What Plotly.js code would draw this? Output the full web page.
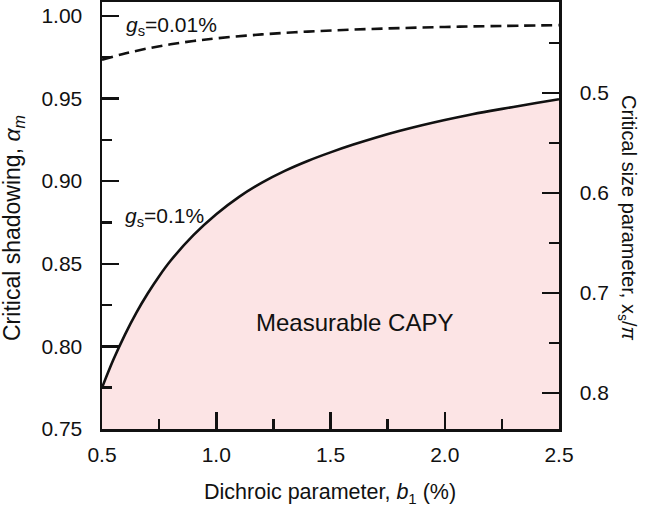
<!DOCTYPE html>
<html>
<head>
<meta charset="utf-8">
<script src="https://cdn.plot.ly/plotly-3.0.1.min.js"></script>
<style>html,body{margin:0;padding:0;background:#fff;}#chart{width:648px;height:515px;}</style>
</head>
<body>
<div id="chart"></div>
<script>
// Dichroic parameter b1 (%) and critical shadowing alpha_m
const b1_gs01 = [0.5, 0.55, 0.6, 0.65, 0.7, 0.75, 0.8, 0.9, 1.0, 1.1, 1.2, 1.3, 1.4, 1.5, 1.6, 1.7, 1.8, 1.9, 2.0, 2.1, 2.2, 2.3, 2.4, 2.5];
const alpha_gs01 = [0.775, 0.792, 0.807, 0.8203, 0.8320, 0.8425, 0.8518, 0.8673, 0.8800, 0.8905, 0.8991, 0.9062, 0.9122, 0.9174, 0.9221, 0.9264, 0.9303, 0.9338, 0.9370, 0.9399, 0.9425, 0.9449, 0.9473, 0.9496];

const b1_gs001 = [0.5, 0.6, 0.7, 0.8, 0.9, 1.0, 1.2, 1.4, 1.6, 1.8, 2.0, 2.2, 2.5];
const alpha_gs001 = [0.9735, 0.9772, 0.9803, 0.9828, 0.9848, 0.9864, 0.9888, 0.9905, 0.9917, 0.9926, 0.9933, 0.9938, 0.9944];

const xTicks = [0.5, 1.0, 1.5, 2.0, 2.5];
const yTicks = [0.75, 0.80, 0.85, 0.90, 0.95, 1.00];
const y2Ticks = [0.5, 0.6, 0.7, 0.8];

const FONT = 'Liberation Sans, Arial, Helvetica, sans-serif';
const ink = '#111';

const traces = [
  {
    x: b1_gs01, y: alpha_gs01, type: 'scatter', mode: 'lines',
    line: {color: ink, width: 2.6, shape: 'spline', smoothing: 1},
    fill: 'tozeroy', fillcolor: 'rgb(252,228,229)', hoverinfo: 'skip', showlegend: false
  },
  {
    x: b1_gs001, y: alpha_gs001, type: 'scatter', mode: 'lines',
    line: {color: ink, width: 2.6, shape: 'spline', smoothing: 1, dash: '11px,6px'},
    hoverinfo: 'skip', showlegend: false
  },
  {
    x: [0.5, 2.5], y: [0.5, 0.8], yaxis: 'y2', type: 'scatter', mode: 'none',
    hoverinfo: 'skip', showlegend: false
  }
];

const tickFont = {family: FONT, size: 21, color: ink};

const layout = {
  width: 648, height: 515,
  margin: {l: 102, r: 89, t: 2, b: 86, pad: 0},
  paper_bgcolor: '#fff', plot_bgcolor: '#fff',
  font: {family: FONT, color: ink, size: 21},
  showlegend: false,
  xaxis: {
    range: [0.5, 2.5], tickvals: xTicks, ticktext: xTicks.map(v => v.toFixed(1)),
    ticks: 'inside', ticklen: 17, tickwidth: 2.5, tickcolor: ink,
    minor: {dtick: 0.25, tick0: 0.5, ticks: 'inside', ticklen: 10, tickwidth: 2.5, tickcolor: ink, showgrid: false},
    showline: true, linewidth: 2.5, linecolor: ink, mirror: true,
    showgrid: false, zeroline: false, tickfont: tickFont, ticklabelstandoff: 5
  },
  yaxis: {
    range: [0.75, 1.0084], tickvals: yTicks, ticktext: yTicks.map(v => v.toFixed(2)),
    ticks: 'inside', ticklen: 17, tickwidth: 2.5, tickcolor: ink,
    minor: {dtick: 0.025, tick0: 0.75, ticks: 'inside', ticklen: 10, tickwidth: 2.5, tickcolor: ink, showgrid: false},
    showline: true, linewidth: 2.5, linecolor: ink, mirror: false,
    showgrid: false, zeroline: false, tickfont: tickFont, ticklabelstandoff: 13
  },
  yaxis2: {
    overlaying: 'y', side: 'right', range: [0.836, 0.409],
    tickvals: y2Ticks, ticktext: y2Ticks.map(v => v.toFixed(1)),
    ticks: 'inside', ticklen: 17, tickwidth: 2.5, tickcolor: ink,
    minor: {dtick: 0.05, tick0: 0.45, ticks: 'inside', ticklen: 10, tickwidth: 2.5, tickcolor: ink, showgrid: false},
    showline: true, linewidth: 2.5, linecolor: ink,
    showgrid: false, zeroline: false, tickfont: tickFont, ticklabelstandoff: 14
  },
  annotations: [
    {xref: 'paper', yref: 'paper', x: (330 - 102) / 457, y: -(493 - 429) / 427, xanchor: 'center', yanchor: 'middle', showarrow: false,
     text: 'Dichroic parameter, <i>b</i><sub>1</sub> (%)', font: {family: FONT, size: 21.5, color: ink}},
    {xref: 'paper', yref: 'paper', x: (13 - 102) / 457, y: 1 - (228 - 2) / 427, xanchor: 'center', yanchor: 'middle', showarrow: false, textangle: -90,
     text: 'Critical shadowing, <i>α</i><sub><i>m</i></sub>', font: {family: FONT, size: 23, color: ink}},
    {xref: 'paper', yref: 'paper', x: (628 - 102) / 457, y: 1 - (218 - 2) / 427, xanchor: 'center', yanchor: 'middle', showarrow: false, textangle: 90,
     text: 'Critical size parameter, x<sub>s</sub>/<i>π</i>', font: {family: FONT, size: 20, color: ink}},
    {xref: 'x', yref: 'y', x: 0.595, y: 0.9940, xanchor: 'left', yanchor: 'middle', showarrow: false,
     text: '<i>g</i><sub>s</sub>=0.01%', font: {family: FONT, size: 21, color: ink}},
    {xref: 'x', yref: 'y', x: 0.59, y: 0.8785, xanchor: 'left', yanchor: 'middle', showarrow: false,
     text: '<i>g</i><sub>s</sub>=0.1%', font: {family: FONT, size: 21, color: ink}},
    {xref: 'x', yref: 'y', x: 1.607, y: 0.8147, xanchor: 'center', yanchor: 'middle', showarrow: false,
     text: 'Measurable CAPY', font: {family: FONT, size: 24, color: ink}}
  ]
};

Plotly.newPlot('chart', traces, layout, {staticPlot: true, displayModeBar: false});
</script>
</body>
</html>
